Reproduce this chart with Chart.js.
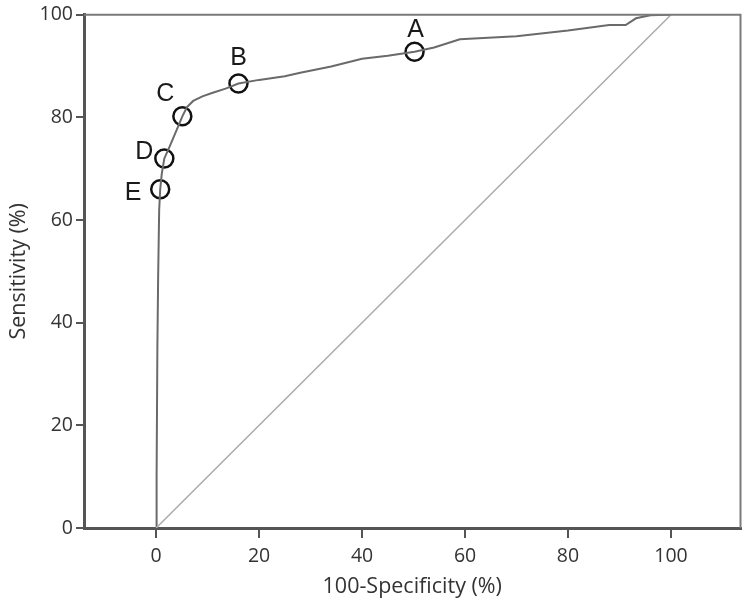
<!DOCTYPE html>
<html>
<head>
<meta charset="utf-8">
<script src="https://cdn.jsdelivr.net/npm/chart.js@4"></script>
<style>
  body { margin: 0; background: #fff; }
  #wrap { width: 752px; height: 610px; }
</style>
</head>
<body>
<div id="wrap"><canvas id="roc"></canvas></div>
<script>
// ROC curve data
const curveX = [0, 0.1, 0.25, 0.4, 0.6, 0.8, 1.1, 1.6, 2.5, 3.9, 5.1, 6, 7.2, 9, 11, 13.5, 16, 20, 25, 28, 34, 40, 45, 50.2, 54, 59, 70, 80, 88, 91.2, 93.2, 96, 99, 100];
const curveY = [0, 10, 35, 49, 62, 66, 69, 72, 74, 77.3, 80.2, 82, 83.2, 84.1, 84.8, 85.6, 86.6, 87.3, 88, 88.7, 89.9, 91.4, 92, 92.8, 93.6, 95.2, 95.8, 96.9, 98, 98, 99.3, 99.9, 100, 100];
const diagX = [0, 100];
const diagY = [0, 100];

// cut-off points
const markNames = ['A', 'B', 'C', 'D', 'E'];
const markX = [50.2, 16, 5.1, 1.6, 0.8];
const markY = [92.8, 86.6, 80.2, 72, 66];

const tickValues = [0, 20, 40, 60, 80, 100];

// where each letter sits relative to its circle (px)
const labelOffsets = [[1, -22], [0, -25], [-17, -22], [-20, -6], [-27, 4]];

const toPoints = (xs, ys) => xs.map((x, i) => ({ x: x, y: ys[i] }));

const frameLines = {
  id: 'frameLines',
  afterDraw(chart) {
    const { ctx, chartArea: a } = chart;
    ctx.save();
    ctx.strokeStyle = '#7a7a7a';
    ctx.lineWidth = 2;
    ctx.beginPath();
    ctx.moveTo(a.left, a.top);
    ctx.lineTo(a.right, a.top);
    ctx.lineTo(a.right, a.bottom);
    ctx.stroke();
    ctx.restore();
  }
};

const markLabels = {
  id: 'markLabels',
  afterDatasetsDraw(chart) {
    const { ctx, scales } = chart;
    ctx.save();
    ctx.font = '25px "Liberation Sans", Arial, sans-serif';
    ctx.fillStyle = '#1a1a1a';
    ctx.textAlign = 'center';
    ctx.textBaseline = 'middle';
    markNames.forEach((name, i) => {
      const px = scales.x.getPixelForValue(markX[i]) + labelOffsets[i][0];
      const py = scales.y.getPixelForValue(markY[i]) + labelOffsets[i][1];
      ctx.fillText(name, px, py);
    });
    ctx.restore();
  }
};

const tickFont = { family: '"Open Sans", sans-serif', size: 19.5 };
const titleFont = { family: '"Open Sans", sans-serif', size: 21.5 };

new Chart(document.getElementById('roc'), {
  type: 'scatter',
  data: {
    datasets: [
      {
        data: toPoints(diagX, diagY),
        showLine: true,
        borderColor: '#ababab',
        borderWidth: 1.5,
        pointRadius: 0
      },
      {
        data: toPoints(curveX, curveY),
        showLine: true,
        borderColor: '#6a6a6a',
        borderWidth: 2,
        pointRadius: 0,
        tension: 0
      },
      {
        data: toPoints(markX, markY),
        showLine: false,
        pointStyle: 'circle',
        pointRadius: 9,
        pointBorderWidth: 2.5,
        borderColor: '#111',
        backgroundColor: 'rgba(0,0,0,0)'
      }
    ]
  },
  options: {
    responsive: true,
    maintainAspectRatio: false,
    animation: false,
    layout: { padding: { top: 13, right: 11, left: 0, bottom: 10 } },
    plugins: {
      legend: { display: false },
      tooltip: { enabled: false }
    },
    scales: {
      x: {
        type: 'linear',
        min: -14,
        max: 113.5,
        afterBuildTicks: scale => { scale.ticks = tickValues.map(v => ({ value: v })); },
        afterFit: scale => { scale.height = 72; },
        border: { display: true, color: '#555', width: 3 },
        grid: { drawOnChartArea: false, drawTicks: true, tickLength: 10, color: '#555', lineWidth: 2 },
        ticks: { font: tickFont, color: '#333', padding: 7, maxRotation: 0 },
        title: {
          display: true,
          text: '100-Specificity (%)',
          font: titleFont,
          color: '#333',
          padding: { top: 2, bottom: 0 }
        }
      },
      y: {
        type: 'linear',
        min: 0,
        max: 100,
        afterBuildTicks: scale => { scale.ticks = tickValues.map(v => ({ value: v })); },
        afterFit: scale => { scale.width = 84; },
        border: { display: true, color: '#555', width: 3 },
        grid: { drawOnChartArea: false, drawTicks: true, tickLength: 8, color: '#555', lineWidth: 2 },
        ticks: { font: tickFont, color: '#333', padding: 3 },
        title: {
          display: true,
          text: 'Sensitivity (%)',
          font: titleFont,
          color: '#333',
          padding: { top: 6, bottom: 4 }
        }
      }
    }
  },
  plugins: [frameLines, markLabels]
});
</script>
</body>
</html>
